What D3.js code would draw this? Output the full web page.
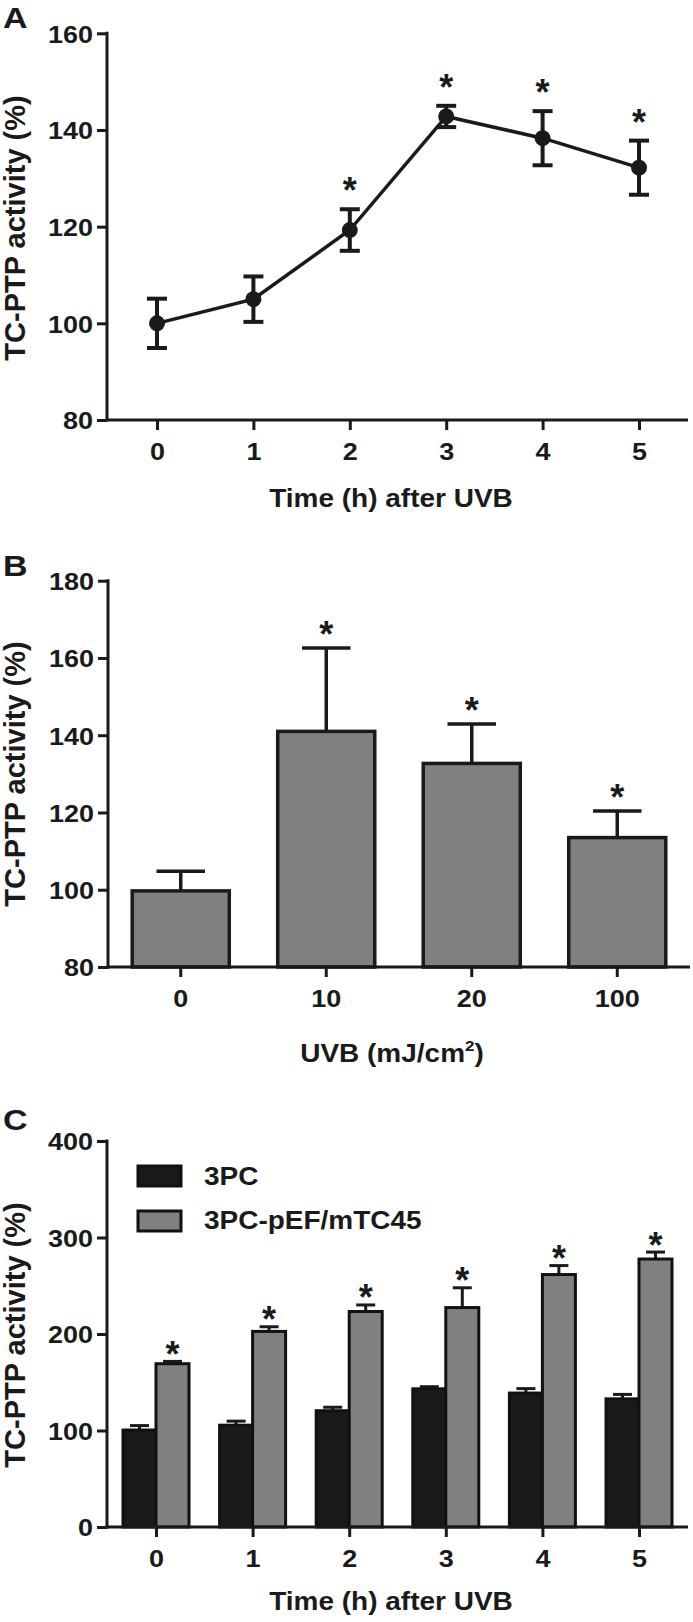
<!DOCTYPE html>
<html>
<head>
<meta charset="utf-8">
<script src="https://cdn.jsdelivr.net/npm/d3@7"></script>
<style>
  body { margin: 0; background: #fff; }
  svg text { font-family: "Liberation Sans", Arial, Helvetica, sans-serif; font-weight: bold; fill: #1a1a1a; }
</style>
</head>
<body>
<script>
// ---------- DATA ----------
// Panel A: time course after UVB (mean ± SEM)
const timeHours = [0, 1, 2, 3, 4, 5];
const aMean = [100, 105, 119.3, 142.8, 138.3, 132.2];
const aErr  = [5.1, 4.7, 4.3, 2.2, 5.6, 5.6];
const aSig  = [false, false, true, true, true, true];
const aTicksY = [80, 100, 120, 140, 160];

// Panel B: UVB dose
const doseLabels = ["0", "10", "20", "100"];
const bMean = [99.7, 141.0, 132.7, 113.5];
const bErr  = [5.1, 21.6, 10.2, 6.9];
const bSig  = [false, true, true, true];
const bTicksY = [80, 100, 120, 140, 160, 180];

// Panel C: 3PC vs 3PC-pEF/mTC45
const seriesNames = ["3PC", "3PC-pEF/mTC45"];
const c3PC     = [100.5, 105.5, 120.5, 143.2, 138.8, 132.8];
const c3PCErr  = [4.6, 4.2, 3.6, 2.2, 4.6, 4.6];
const cTC45    = [169.2, 202.7, 223.3, 227.4, 261.6, 277.7];
const cTC45Err = [2.4, 4.8, 6.8, 20.5, 9.3, 7.2];
const cSig     = [true, true, true, true, true, true];
const cTicksY  = [0, 100, 200, 300, 400];

const xTitleTime = "Time (h) after UVB";
const yTitle = "TC-PTP activity (%)";

// ---------- STYLE ----------
const INK = "#1a1a1a", GREY = "#808080";
const SY = 0.91;            // vertical squash of horizontal text
const FS = 28;              // title font size

const svg = d3.select("body").append("svg")
  .attr("width", 693).attr("height", 1622);

function htext(g, x, y, str, size, anchor) {
  return g.append("text")
    .attr("transform", `translate(${x},${y}) scale(1,${SY})`)
    .attr("font-size", size)
    .attr("text-anchor", anchor || "middle")
    .text(str);
}

function styleAxis(g) {
  g.select(".domain").remove();
  g.selectAll(".tick line").attr("stroke", INK).attr("stroke-width", 3);
}

function leftAxis(g, y, ticks, axisX) {
  const ax = g.append("g").attr("transform", `translate(${axisX},0)`)
    .call(d3.axisLeft(y).tickValues(ticks).tickSize(10).tickSizeOuter(0).tickFormat(d3.format("d")));
  styleAxis(ax);
  ax.selectAll(".tick text")
    .attr("x", null).attr("dy", null)
    .attr("transform", `translate(-14,0) scale(1,${SY})`)
    .attr("dy", "0.36em")
    .attr("font-size", 27).attr("font-family", null).attr("fill", INK);
  ax.append("line").attr("x1", 0).attr("x2", 0)
    .attr("y1", y.range()[1] - 1.5).attr("y2", y.range()[0] + 1.5)
    .attr("stroke", INK).attr("stroke-width", 3);
}

function bottomAxis(g, x, ticks, axisY, x0, x1, fmt) {
  const axis = d3.axisBottom(x).tickSize(10).tickSizeOuter(0);
  if (ticks) axis.tickValues(ticks);
  if (fmt) axis.tickFormat(fmt);
  const ax = g.append("g").attr("transform", `translate(0,${axisY})`).call(axis);
  styleAxis(ax);
  ax.selectAll(".tick text")
    .attr("y", null).attr("dy", null)
    .attr("transform", `translate(0,39.5) scale(1,${SY})`)
    .attr("font-size", 27).attr("font-family", null).attr("fill", INK);
  ax.append("line").attr("x1", x0).attr("x2", x1).attr("y1", 0).attr("y2", 0)
    .attr("stroke", INK).attr("stroke-width", 3);
}

function yTitleText(g, cy) {
  g.append("text")
    .attr("transform", "rotate(-90)")
    .attr("x", -cy).attr("y", 25)
    .attr("text-anchor", "middle")
    .attr("font-size", 29)
    .text(yTitle);
}

function panelLetter(g, letter, y) {
  g.append("text")
    .attr("transform", `translate(3,${y}) scale(1,0.88)`)
    .attr("font-size", 34).text(letter);
}

function asterisk(g, cx, centerY) {
  g.append("text").attr("x", cx).attr("y", centerY + 21)
    .attr("text-anchor", "middle").attr("font-size", 36).attr("font-weight", "bold")
    .text("*");
}

// ---------- PANEL A ----------
{
  const g = svg.append("g");
  const x = d3.scaleLinear().domain([0, 5]).range([157, 639]);
  const y = d3.scaleLinear().domain([80, 160]).range([420, 33.3]);
  panelLetter(g, "A", 28);
  yTitleText(g, 228);
  g.append("path").datum(timeHours.map((t, i) => [t, aMean[i]]))
    .attr("fill", "none").attr("stroke", INK).attr("stroke-width", 3.5)
    .attr("d", d3.line().x(d => x(d[0])).y(d => y(d[1])));
  const eb = g.append("g").attr("stroke", INK).attr("stroke-width", 4);
  timeHours.forEach((t, i) => {
    const cx = x(t), yt = y(aMean[i] + aErr[i]), yb = y(aMean[i] - aErr[i]);
    eb.append("line").attr("x1", cx).attr("x2", cx).attr("y1", yt).attr("y2", yb);
    eb.append("line").attr("x1", cx - 10).attr("x2", cx + 10).attr("y1", yt).attr("y2", yt);
    eb.append("line").attr("x1", cx - 10).attr("x2", cx + 10).attr("y1", yb).attr("y2", yb);
  });
  g.selectAll("circle.pt").data(timeHours).join("circle")
    .attr("cx", t => x(t)).attr("cy", (t, i) => y(aMean[i])).attr("r", 8).attr("fill", INK);
  timeHours.forEach((t, i) => { if (aSig[i]) asterisk(g, x(t), y(aMean[i] + aErr[i]) - 27); });
  leftAxis(g, y, aTicksY, 107);
  bottomAxis(g, x, timeHours, 420, 105.5, 688, d3.format("d"));
  htext(g, 391, 506.7, xTitleTime, FS);
}

// ---------- PANEL B ----------
{
  const g = svg.append("g");
  const x = d3.scaleBand().domain(doseLabels).range([108, 690]).paddingInner(0.333).paddingOuter(0.1665);
  const y = d3.scaleLinear().domain([80, 180]).range([967, 580.7]);
  panelLetter(g, "B", 576);
  yTitleText(g, 774);
  const eb = g.append("g").attr("stroke", INK).attr("stroke-width", 3.5);
  doseLabels.forEach((d, i) => {
    const cx = x(d) + x.bandwidth() / 2;
    const yt = y(bMean[i] + bErr[i]);
    eb.append("line").attr("x1", cx).attr("x2", cx).attr("y1", yt).attr("y2", y(bMean[i]));
    eb.append("line").attr("x1", cx - x.bandwidth() / 4).attr("x2", cx + x.bandwidth() / 4).attr("y1", yt).attr("y2", yt);
  });
  g.selectAll("rect.bar").data(doseLabels).join("rect")
    .attr("x", d => x(d)).attr("width", x.bandwidth())
    .attr("y", (d, i) => y(bMean[i])).attr("height", (d, i) => y(80) - y(bMean[i]))
    .attr("fill", GREY).attr("stroke", INK).attr("stroke-width", 3.5);
  doseLabels.forEach((d, i) => { if (bSig[i]) asterisk(g, x(d) + x.bandwidth() / 2, y(bMean[i] + bErr[i]) - 22); });
  leftAxis(g, y, bTicksY, 108);
  bottomAxis(g, x, null, 967, 106.5, 690);
  const ttl = htext(g, 392, 1061.5, "", FS);
  ttl.append("tspan").text("UVB (mJ/cm");
  ttl.append("tspan").attr("font-size", 17).attr("dy", -11).text("2");
  ttl.append("tspan").attr("dy", 11).text(")");
}

// ---------- PANEL C ----------
{
  const g = svg.append("g");
  const x = d3.scaleLinear().domain([0, 5]).range([156, 639]);
  const y = d3.scaleLinear().domain([0, 400]).range([1527, 1141]);
  const bw = 33;
  panelLetter(g, "C", 1130);
  yTitleText(g, 1335);
  const eb = g.append("g").attr("stroke", INK).attr("stroke-width", 3);
  timeHours.forEach((t, i) => {
    const cb = x(t) - bw / 2, cg = x(t) + bw / 2;
    const yb = y(c3PC[i] + c3PCErr[i]), yg = y(cTC45[i] + cTC45Err[i]);
    eb.append("line").attr("x1", cb).attr("x2", cb).attr("y1", yb).attr("y2", y(c3PC[i]));
    eb.append("line").attr("x1", cb - 9.5).attr("x2", cb + 9.5).attr("y1", yb).attr("y2", yb);
    eb.append("line").attr("x1", cg).attr("x2", cg).attr("y1", yg).attr("y2", y(cTC45[i]));
    eb.append("line").attr("x1", cg - 9.5).attr("x2", cg + 9.5).attr("y1", yg).attr("y2", yg);
  });
  g.selectAll("rect.b3").data(timeHours).join("rect")
    .attr("x", t => x(t) - bw).attr("width", bw)
    .attr("y", (t, i) => y(c3PC[i])).attr("height", (t, i) => y(0) - y(c3PC[i]))
    .attr("fill", INK).attr("stroke", "#111").attr("stroke-width", 3);
  g.selectAll("rect.bg").data(timeHours).join("rect")
    .attr("x", t => x(t)).attr("width", bw)
    .attr("y", (t, i) => y(cTC45[i])).attr("height", (t, i) => y(0) - y(cTC45[i]))
    .attr("fill", GREY).attr("stroke", "#111").attr("stroke-width", 3);
  timeHours.forEach((t, i) => { if (cSig[i]) asterisk(g, x(t) + bw / 2, y(cTC45[i] + cTC45Err[i]) - 15.5); });
  const lg = g.append("g");
  [INK, GREY].forEach((c, i) => {
    lg.append("rect").attr("x", 138).attr("y", 1166 + i * 45).attr("width", 43).attr("height", 20)
      .attr("fill", c).attr("stroke", "#111").attr("stroke-width", 3);
    htext(lg, 204, 1185 + i * 43.5, seriesNames[i], FS, "start");
  });
  leftAxis(g, y, cTicksY, 107);
  bottomAxis(g, x, timeHours, 1527, 105.5, 688, d3.format("d"));
  htext(g, 391, 1610, xTitleTime, FS);
}
</script>
</body>
</html>
